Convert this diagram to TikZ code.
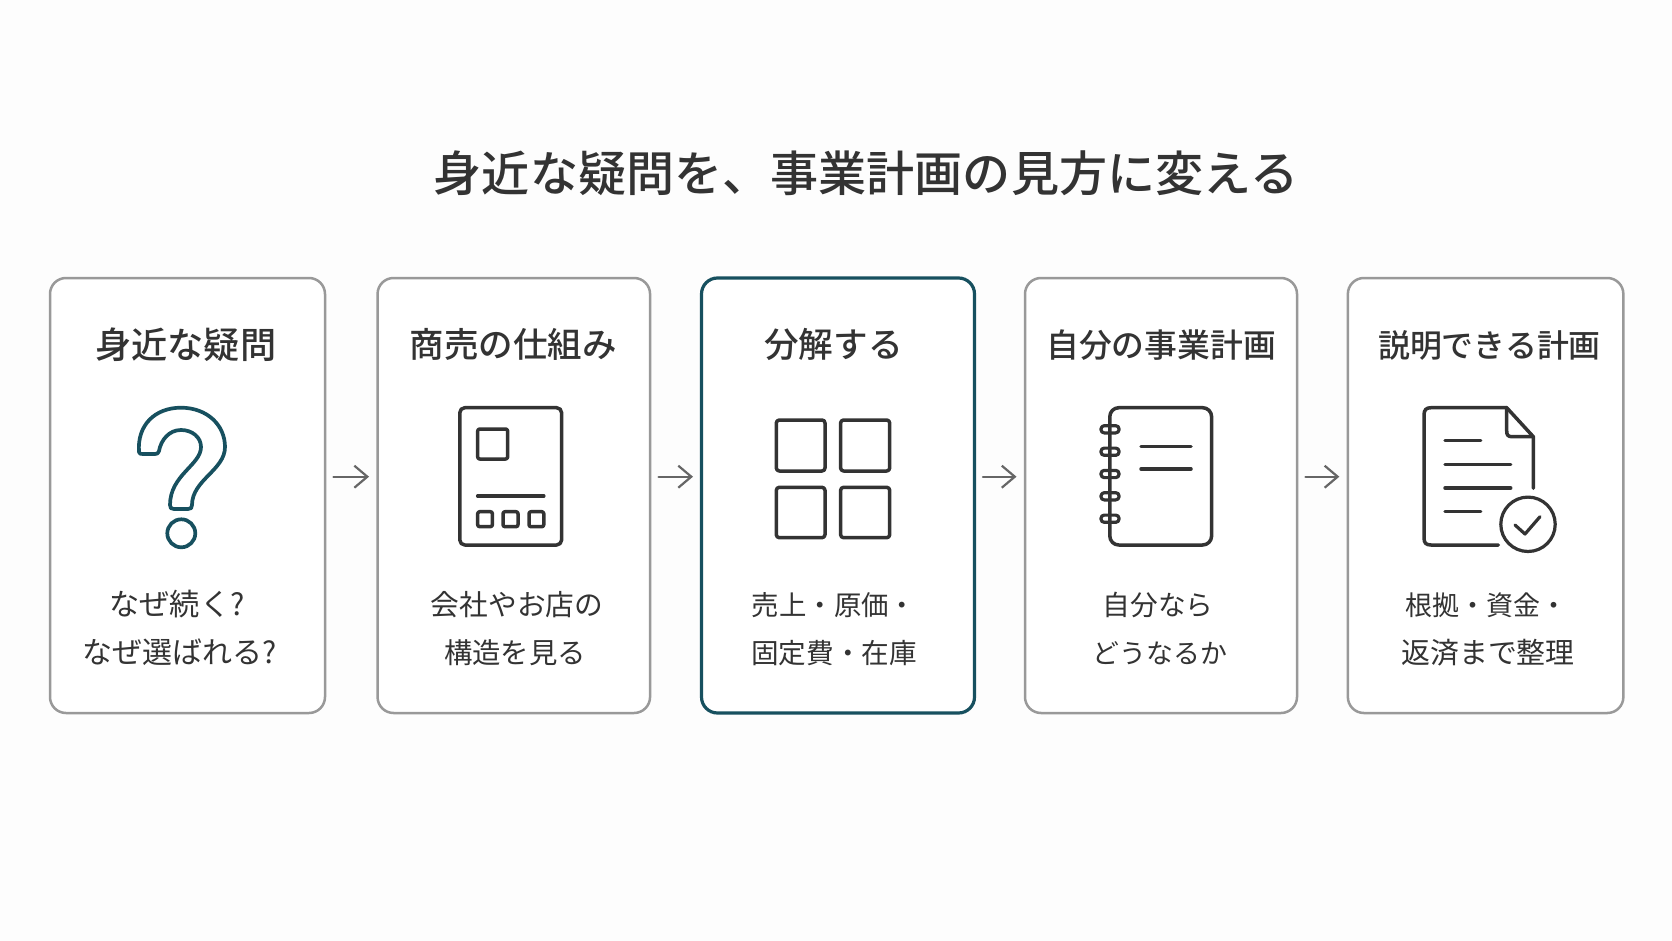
\documentclass[tikz,border=0pt]{standalone}
\usepackage{fontspec}
\usetikzlibrary{arrows.meta}
\newfontfamily\jaR{Noto Sans CJK JP}
\newfontfamily\jaM{Noto Sans CJK JP Medium}
\definecolor{bgc}{HTML}{FDFDFD}
\definecolor{inkc}{HTML}{333333}
\definecolor{tealc}{HTML}{17505F}
\definecolor{edgec}{HTML}{999999}
\definecolor{arrc}{HTML}{666666}
\tikzset{
  card/.style={draw=edgec,line width=2.5pt,rounded corners=16pt,fill=white,inner sep=0pt,outer sep=0pt,minimum height=435pt,anchor=center},
  hotcard/.style={card,draw=tealc,line width=3.2pt},
  titletext/.style={anchor=base,inner sep=0pt,text=inkc,font=\jaM\fontsize{48.1}{50}\selectfont},
  headtext/.style={anchor=base,inner sep=0pt,text=inkc,font=\jaM\fontsize{#1}{36}\selectfont},
  bodytext/.style={anchor=base,inner sep=0pt,text=inkc,font=\jaR\fontsize{#1}{30}\selectfont},
  flow/.style={draw=arrc,line width=2.2pt,line cap=round,shorten <=8.5pt,shorten >=8.5pt,-{Straight Barb[length=13pt,width=22pt,line width=2.2pt]}},
  icon/.style={draw=inkc,line width=3.5pt,line join=round,line cap=round},
  tealicon/.style={draw=tealc,line width=3.7pt,line join=round,line cap=round},
}
\begin{document}
\begin{tikzpicture}[x=1pt,y=-1pt]
\useasboundingbox (0,0) rectangle (1672,941);
\fill[bgc] (0,0) rectangle (1672,941);
\node[titletext] (title) at (866,192) {身近な疑問を、事業計画の見方に変える};

\node[card,minimum width=275pt] (c1) at (187.5,495.5) {};
\node[card,minimum width=272.5pt] (c2) at (513.8,495.5) {};
\node[hotcard,minimum width=273pt] (c3) at (838,495.5) {};
\node[card,minimum width=272pt] (c4) at (1161,495.5) {};
\node[card,minimum width=275.5pt] (c5) at (1485.6,495.5) {};

\coordinate (ay) at (0,476.7);
\draw[flow] (c1.east |- ay) -- (c2.west |- ay);
\draw[flow] (c2.east |- ay) -- (c3.west |- ay);
\draw[flow] (c3.east |- ay) -- (c4.west |- ay);
\draw[flow] (c4.east |- ay) -- (c5.west |- ay);

\node[headtext=36.2] (h1) at (185.8,358) {身近な疑問};
\node[headtext=34.5] (h2) at (513,357.5) {商売の仕組み};
\node[headtext=34.6] (h3) at (833.5,357.5) {分解する};
\node[headtext=32.8] (h4) at (1161,357.5) {自分の事業計画};
\node[headtext=31.9] (h5) at (1489.5,357) {説明できる計画};

\node[bodytext=30.2] (b1a) at (177,615.5) {なぜ続く?};
\node[bodytext=30] (b1b) at (180,663.5) {なぜ選ばれる?};
\node[bodytext=28.7] (b2a) at (517,615.5) {会社やお店の};
\node[bodytext=28.4] (b2b) at (515,663.5) {構造を見る};
\node[bodytext=27.4] (b3a) at (834,615) {売上・原価・};
\node[bodytext=27.6] (b3b) at (834,663) {固定費・在庫};
\node[bodytext=27.7] (b4a) at (1158,615) {自分なら};
\node[bodytext=26.9] (b4b) at (1160,663) {どうなるか};
\node[bodytext=27] (b5a) at (1486,615) {根拠・資金・};
\node[bodytext=28.9] (b5b) at (1488,663.5) {返済まで整理};

% question mark
\draw[tealicon] (139,452) .. controls (137,425) and (155,407.7) .. (181,407.7)
  .. controls (207,407.7) and (225,425) .. (225,447)
  .. controls (225,470) and (192,480) .. (192,505)
  .. controls (192,508) and (191,509) .. (188,509) -- (174,509)
  .. controls (171,509) and (170,508) .. (170,505)
  .. controls (170,475) and (201,465) .. (201,447)
  .. controls (201,437) and (192,430) .. (181,430)
  .. controls (169,430) and (161,440) .. (159,451)
  .. controls (158.5,453.5) and (157,454) .. (155,454) -- (143,454)
  .. controls (141,454) and (139,454) .. (139,452) -- cycle;
\draw[tealicon] (181.3,533.3) circle (14pt);

% tablet
\draw[icon,rounded corners=5pt] (459.8,407.7) rectangle (561.6,545);
\draw[icon,rounded corners=2pt] (477.7,429) rectangle (507.6,459);
\draw[icon] (477.7,496) -- (543.8,496);
\draw[icon,rounded corners=2pt] (477.7,511.7) rectangle (492.4,526.7);
\draw[icon,rounded corners=2pt] (503,511.7) rectangle (518,526.7);
\draw[icon,rounded corners=2pt] (529,511.7) rectangle (543.8,526.7);

% four squares
\draw[icon,rounded corners=3pt] (776.3,420) rectangle (825,471);
\draw[icon,rounded corners=3pt] (840.6,420) rectangle (889.7,471);
\draw[icon,rounded corners=3pt] (776.3,487.3) rectangle (825,537.7);
\draw[icon,rounded corners=3pt] (840.6,487.3) rectangle (889.7,537.7);

% notebook
\draw[icon,rounded corners=9pt] (1109.8,407.7) rectangle (1211.6,545);
\draw[icon] (1141,446.3) -- (1191,446.3);
\draw[icon] (1141,469) -- (1191,469);
\foreach \ry in {429.3,451.7,474,496.3,518.7}{
  \draw[icon,line width=3.2pt,rounded corners=3.2pt] (1101,\ry-3.6) rectangle (1119,\ry+3.6);
}

% document with check
\draw[icon] (1498.3,545) -- (1431,545) .. controls (1426,545) and (1424,543) .. (1424,538)
  -- (1424,415) .. controls (1424,410) and (1426,407.7) .. (1431,407.7)
  -- (1506.7,407.7) -- (1533.3,436.7) -- (1533.3,488.3);
\draw[icon] (1506.7,407.7) -- (1506.7,431) .. controls (1506.7,435) and (1508,436.7) .. (1512,436.7) -- (1533.3,436.7);
\draw[icon] (1445,440.7) -- (1480.7,440.7);
\draw[icon] (1445,464.3) -- (1510.7,464.3);
\draw[icon] (1445,488) -- (1510.7,488);
\draw[icon] (1445,511.7) -- (1480.7,511.7);
\draw[icon,line width=3.2pt] (1528,524.3) circle (27.2pt);
\draw[icon,line width=3.2pt] (1515,525) -- (1525,534) -- (1540,516.7);
\end{tikzpicture}
\end{document}
